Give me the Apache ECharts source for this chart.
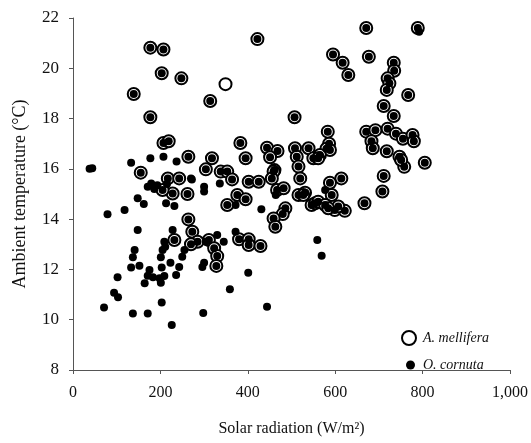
<!DOCTYPE html>
<html>

<head>
    <meta charset="UTF-8">
    <title>echarts-scatter solar radiation</title>
    <script type="text/javascript" src="https://cdn.jsdelivr.net/npm/echarts@6/dist/echarts.min.js"></script>
    <style>
    body,
    html {
        margin: 0;
        padding: 0;
        width: 100%;
        height: 100%;
        background: #fff;
    }

    #chart {
        width: 531px;
        height: 443px;
    }
    </style>
</head>

<body>
    <div id="chart"></div>
    <script>
    // [solar radiation, ambient temperature]
    // points where both species were recorded (circle with dot)
    var bothPoints = [
        [177, 20.82], [207, 20.75], [203, 19.8], [248, 19.6], [139, 18.98], [177, 18.05],
        [207, 17.03], [219, 17.1], [264, 16.48], [155, 15.85],
        [217, 15.62], [243, 15.62], [228, 15.02], [262, 15.0], [205, 15.16],
        [264, 13.99], [273, 13.5], [285, 13.1], [232, 13.17], [311, 13.17], [323, 12.84],
        [330, 12.53], [328, 12.14], [270, 13.0],
        [422, 21.16], [314, 18.7], [507, 18.05], [383, 17.03], [444, 16.84], [468, 16.71],
        [451, 16.46], [395, 16.42], [318, 16.42], [508, 16.82], [539, 16.82], [512, 16.48],
        [550, 16.42], [516, 16.09], [461, 15.95], [304, 15.98], [338, 15.89], [353, 15.89],
        [364, 15.58], [402, 15.49], [425, 15.49], [459, 15.89], [455, 15.62], [467, 15.16],
        [482, 15.23], [520, 15.62], [516, 14.96], [531, 15.05], [546, 14.56], [527, 14.96],
        [554, 14.63], [376, 14.96], [395, 14.79], [353, 14.56], [486, 14.43], [480, 14.2],
        [459, 14.03], [463, 13.7], [380, 13.2], [402, 13.2], [402, 12.97], [429, 12.93],
        [671, 21.6], [789, 21.6], [595, 20.55], [617, 20.22], [630, 19.73], [677, 20.46],
        [734, 20.22], [735, 19.9], [720, 19.6], [724, 19.4], [718, 19.14], [767, 18.94],
        [711, 18.5], [734, 18.1], [583, 17.48], [586, 17.0], [580, 16.8], [588, 16.75],
        [565, 16.55], [671, 17.48], [692, 17.54], [683, 17.1], [686, 16.82], [720, 17.6],
        [739, 17.4], [755, 17.2], [777, 17.35], [780, 17.1], [718, 16.7], [747, 16.48],
        [758, 16.08], [805, 16.24], [751, 16.35], [561, 16.42],
        [614, 15.62], [588, 15.45], [592, 14.96], [561, 14.69], [599, 14.36], [622, 14.33],
        [577, 14.56], [607, 14.5], [711, 15.72], [708, 15.1], [667, 14.63], [584, 14.43]
    ];
    // A. mellifera only (open circle)
    var melliferaOnly = [
        [349, 19.37]
    ];
    // O. cornuta only (black dot)
    var cornutaOnly = [
        [38, 16.0], [44, 16.02], [133, 16.24], [177, 16.42], [207, 16.48], [237, 16.29],
        [270, 15.62], [215, 15.4], [179, 15.42], [171, 15.29], [186, 15.2], [193, 15.35],
        [148, 14.83], [162, 14.6], [213, 14.63], [232, 14.52], [79, 14.19], [118, 14.36],
        [228, 13.57], [148, 13.57], [209, 13.1], [211, 12.9], [205, 12.77], [141, 12.77],
        [137, 12.48], [133, 12.08], [152, 12.15], [201, 12.48], [223, 12.27], [203, 12.08],
        [255, 12.77], [250, 12.5], [243, 12.1], [236, 11.78], [175, 11.98], [171, 11.75],
        [183, 11.69], [164, 11.45], [198, 11.65], [209, 11.74], [201, 11.47], [102, 11.69],
        [94, 11.07], [103, 10.89], [71, 10.49], [203, 10.68], [137, 10.25], [171, 10.25],
        [226, 9.79], [296, 12.1], [298, 10.27], [300, 15.29], [300, 15.1], [336, 15.42],
        [272, 15.58], [372, 14.56], [431, 14.39], [464, 14.96], [372, 13.5], [330, 13.37],
        [345, 13.1], [304, 13.1], [300, 12.27], [401, 11.87], [359, 11.21], [444, 10.52],
        [559, 13.17], [569, 12.54], [577, 15.16], [792, 21.45]
    ];

    var xTicks = { min: 0, max: 1000, interval: 200 };
    var yTicks = { min: 8, max: 22, interval: 2 };

    var serifFont = '"Liberation Serif", "Times New Roman", serif';

    var echart = echarts.init(document.getElementById('chart'), null, { renderer: 'canvas' });
    var option = {
        animation: false,
        backgroundColor: '#fff',
        grid: {
            left: 73,
            right: 18,
            top: 18,
            bottom: 73
        },
        legend: [{
            orient: 'vertical',
            left: 396,
            top: 325,
            itemWidth: 14,
            itemHeight: 14,
            selectedMode: false,
            data: ['A. mellifera'],
            textStyle: {
                fontFamily: serifFont,
                fontStyle: 'italic',
                fontSize: 14,
                color: '#111',
                padding: [0, 0, 0, 2]
            }
        }, {
            orient: 'vertical',
            left: 401,
            top: 353,
            itemWidth: 9,
            itemHeight: 9,
            selectedMode: false,
            data: ['O. cornuta'],
            textStyle: {
                fontFamily: serifFont,
                fontStyle: 'italic',
                fontSize: 14,
                color: '#111',
                padding: [0, 0, 0, 3]
            }
        }],
        xAxis: {
            type: 'value',
            min: xTicks.min,
            max: xTicks.max,
            interval: xTicks.interval,
            name: 'Solar radiation (W/m²)',
            nameLocation: 'middle',
            nameGap: 51,
            nameTextStyle: { fontFamily: serifFont, fontSize: 16, color: '#111' },
            axisLine: { show: true, lineStyle: { color: '#555', width: 1 } },
            axisTick: { show: true, length: 4, lineStyle: { color: '#555' } },
            axisLabel: { fontFamily: serifFont, fontSize: 16, color: '#111', margin: 15 },
            splitLine: { show: false }
        },
        yAxis: {
            type: 'value',
            min: yTicks.min,
            max: yTicks.max,
            interval: yTicks.interval,
            name: 'Ambient temperature (°C)',
            nameLocation: 'middle',
            nameGap: 44,
            nameTextStyle: { fontFamily: serifFont, fontSize: 18, color: '#111' },
            axisLine: { show: true, lineStyle: { color: '#555', width: 1 } },
            axisTick: { show: true, length: 4, lineStyle: { color: '#555' } },
            axisLabel: { fontFamily: serifFont, fontSize: 17, color: '#111', margin: 14 },
            splitLine: { show: false }
        },
        series: [{
            name: 'A. mellifera',
            type: 'scatter',
            symbol: 'circle',
            symbolSize: 12,
            z: 2,
            itemStyle: { color: '#fff', borderColor: '#000', borderWidth: 2, opacity: 1 },
            emphasis: { disabled: true },
            data: bothPoints.concat(melliferaOnly)
        }, {
            name: 'O. cornuta',
            type: 'scatter',
            symbol: 'circle',
            symbolSize: 8,
            z: 3,
            itemStyle: { color: '#000', opacity: 1 },
            emphasis: { disabled: true },
            data: bothPoints.concat(cornutaOnly)
        }]
    };

    echart.setOption(option);
    </script>
</body>

</html>
